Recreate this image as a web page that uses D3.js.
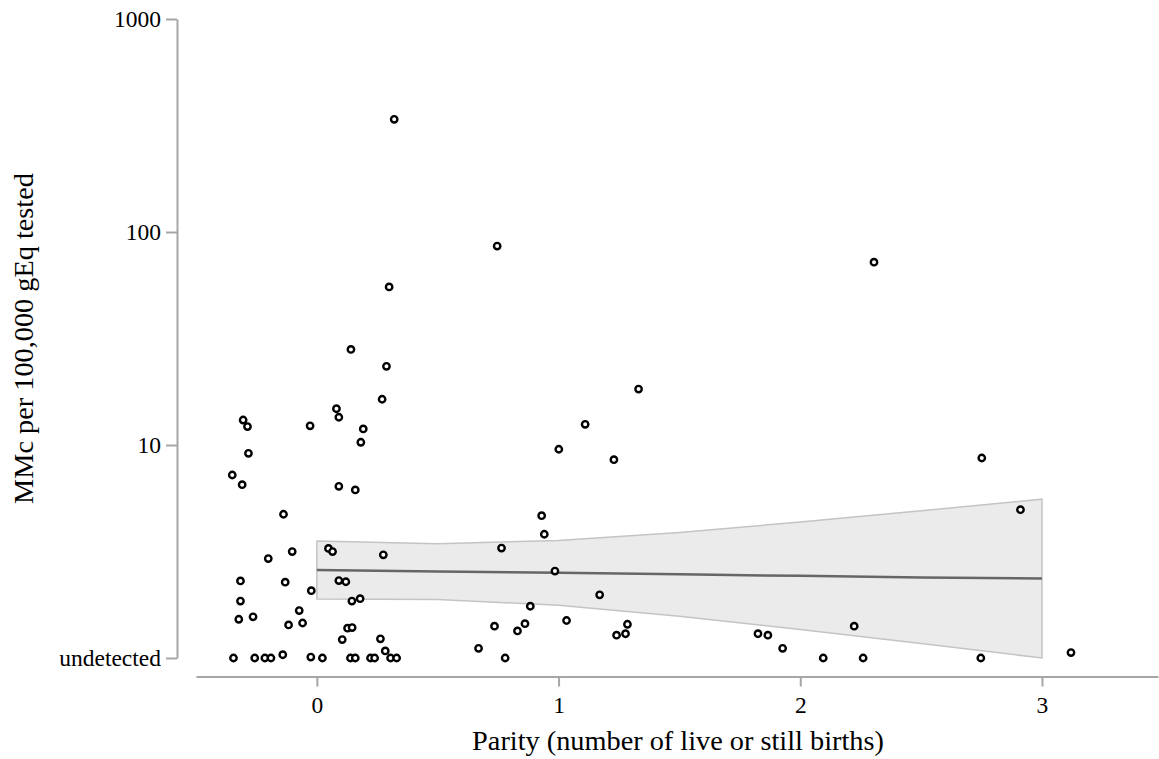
<!DOCTYPE html>
<html>
<head>
<meta charset="utf-8">
<script src="https://cdn.jsdelivr.net/npm/d3@7"></script>
<style>
  html, body { margin: 0; padding: 0; background: #fff; }
  svg { display: block; }
  text { font-family: "Liberation Serif", "Times New Roman", serif; fill: #000; }
</style>
</head>
<body>
<svg id="chart" width="1159" height="759"></svg>
<script>
// Parity (jittered) and MMc per 100,000 gEq (1 = undetected)
const parity = [
  -0.345, -0.257, -0.215, -0.190, -0.141, -0.025, 0.023, 0.139, 0.159, 0.222, 0.239, 0.283, 0.305, 0.330,
  0.270, 0.081, 0.091, -0.305, -0.287, -0.028, 0.192, 0.182, -0.283, -0.350, -0.309, 0.091, 0.159,
  -0.138, -0.102, -0.201, 0.048, 0.065, 0.275, -0.316, -0.131, 0.091, 0.120, -0.023, -0.316, 0.145,
  0.179, -0.073, -0.264, -0.323, -0.059, -0.117, 0.127, 0.146, 0.105, 0.263,
  0.320, 0.746, 0.299, 0.141, 0.288,
  1.331, 1.110, 1.001, 1.229, 0.930, 0.941, 0.764, 0.985, 1.170, 0.883, 0.735, 0.861, 0.830, 1.033,
  1.285, 1.277, 1.240, 0.669, 0.779,
  2.305, 2.911, 1.825, 1.866, 1.927, 2.095, 2.223, 2.260, 2.747, 3.120, 2.751
];
const mmc = [
  1, 1, 1, 1, 1.036, 1.01, 1, 1, 1, 1, 1, 1.08, 1, 1,
  16.4, 14.8, 13.5, 13.1, 12.2, 12.3, 11.9, 10.3, 9.14, 7.23, 6.51, 6.40, 6.15,
  4.73, 3.16, 2.93, 3.27, 3.16, 3.05, 2.30, 2.27, 2.31, 2.28, 2.07, 1.85, 1.85,
  1.90, 1.67, 1.56, 1.52, 1.46, 1.43, 1.38, 1.39, 1.22, 1.23,
  338, 85.9, 55.2, 28.1, 23.4,
  18.3, 12.5, 9.55, 8.53, 4.66, 3.81, 3.28, 2.56, 1.98, 1.75, 1.41, 1.45, 1.34, 1.50,
  1.44, 1.30, 1.28, 1.11, 1,
  72.2, 4.97, 1.30, 1.28, 1.11, 1, 1.41, 1, 1, 1.06, 8.69
];

// Fitted line and 95% CI band
const fitX     = [0, 0.5, 1, 1.5, 2, 2.5, 3];
const fitMid   = [2.59, 2.55, 2.51, 2.47, 2.43, 2.39, 2.36];
const fitUpper = [3.54, 3.44, 3.56, 3.88, 4.35, 4.91, 5.57];
const fitLower = [1.89, 1.88, 1.77, 1.57, 1.36, 1.17, 1.00];

const xTicks = [0, 1, 2, 3];
const yTicks = [1, 10, 100, 1000];
const yTickLabels = ["undetected", "10", "100", "1000"];

const svg = d3.select("#chart");
const x = d3.scaleLinear().domain([-0.5, 3.48]).range([196, 1158]);
const y = d3.scaleLog().domain([1, 1000]).range([658, 19]);

const axisColor = "#a6a6a6";

// CI band
const band = fitX.map((v, i) => ({x: v, lo: fitLower[i], hi: fitUpper[i]}));
const bandPts = band.map(d => [x(d.x), y(d.hi)]).concat(band.slice().reverse().map(d => [x(d.x), y(d.lo)]));
svg.append("polygon")
  .attr("points", bandPts.map(p => p.join(",")).join(" "))
  .attr("fill", "#ebebeb")
  .attr("stroke", "#c4c4c4")
  .attr("stroke-width", 1.5);

svg.append("path")
  .datum(fitX.map((v, i) => [v, fitMid[i]]))
  .attr("d", d3.line().x(d => x(d[0])).y(d => y(d[1])))
  .attr("fill", "none")
  .attr("stroke", "#666")
  .attr("stroke-width", 2.5);

// Y axis
const yAxis = d3.axisLeft(y).tickValues(yTicks).tickFormat((d, i) => yTickLabels[i]).tickSizeInner(11).tickSizeOuter(0).tickPadding(5);
const gy = svg.append("g").attr("transform", "translate(177,0)").call(yAxis);
gy.select(".domain").attr("stroke", axisColor).attr("stroke-width", 2);
gy.selectAll(".tick line").attr("stroke", axisColor).attr("stroke-width", 2);
gy.selectAll(".tick text").attr("font-size", 23.5).style("font-family", "Liberation Serif").attr("fill", "#000");

// X axis
const xAxis = d3.axisBottom(x).tickValues(xTicks).tickFormat(d3.format("d")).tickSizeInner(10).tickSizeOuter(0).tickPadding(10);
const gx = svg.append("g").attr("transform", "translate(0,676.5)").call(xAxis);
gx.select(".domain").attr("stroke", axisColor).attr("stroke-width", 2);
gx.selectAll(".tick line").attr("stroke", axisColor).attr("stroke-width", 2);
gx.selectAll(".tick text").attr("font-size", 23.5).style("font-family", "Liberation Serif").attr("fill", "#000");

// Points
svg.append("g").selectAll("circle")
  .data(parity.map((p, i) => [p, mmc[i]]))
  .join("circle")
  .attr("cx", d => x(d[0]))
  .attr("cy", d => y(d[1]))
  .attr("r", 3.2)
  .attr("fill", "#fff")
  .attr("stroke", "#000")
  .attr("stroke-width", 2.4);

// Titles
svg.append("text")
  .attr("x", 678).attr("y", 750)
  .attr("text-anchor", "middle")
  .attr("font-size", 28.3)
  .text("Parity (number of live or still births)");

svg.append("text")
  .attr("transform", "translate(33,338.5) rotate(-90)")
  .attr("text-anchor", "middle")
  .attr("font-size", 28.3)
  .text("MMc per 100,000 gEq tested");
</script>
</body>
</html>
